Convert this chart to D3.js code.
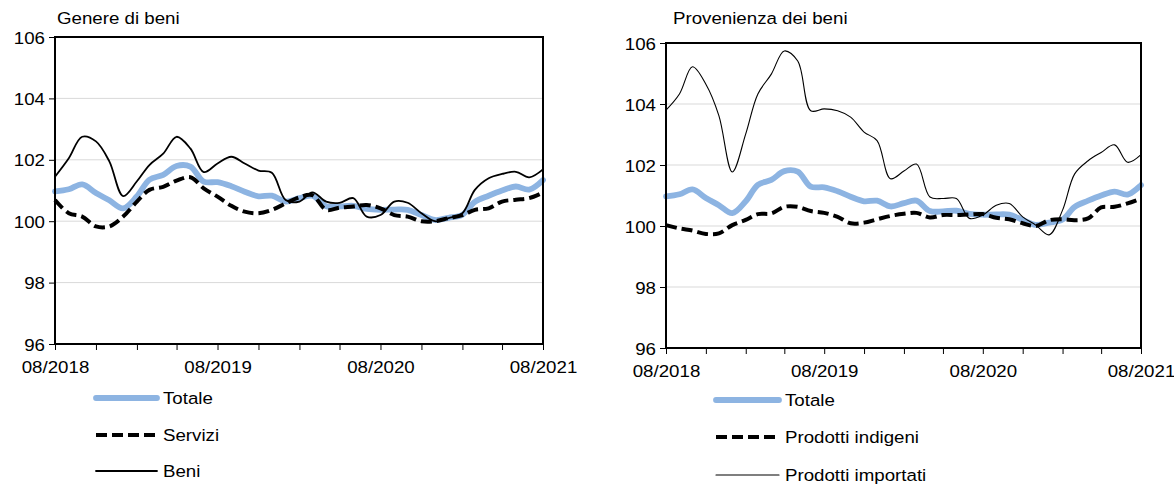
<!DOCTYPE html>
<html>
<head>
  <meta charset="utf-8">
  <title>Prezzi - genere e provenienza dei beni</title>
  <script src="https://d3js.org/d3.v7.min.js"></script>
  <style>
    body { margin: 0; padding: 0; background: #fff; }
    svg text { font-family: "Liberation Sans", Arial, sans-serif; fill: #000; }
  </style>
</head>
<body>
  <svg id="chart" width="1174" height="484"></svg>
  <script>
    // mesi 08/2018 - 08/2021
    var startMonth = new Date(2018, 7, 1);
    var endMonth = new Date(2021, 7, 1);
    var months = d3.timeMonth.range(startMonth, d3.timeMonth.offset(endMonth, 1));

    var yTicks = [96, 98, 100, 102, 104, 106];
    var xTickLabels = ["08/2018", "08/2019", "08/2020", "08/2021"];

    // serie
    var totale = [100.97, 101.04, 101.2, 100.92, 100.68, 100.42, 100.81, 101.35, 101.51, 101.8, 101.78, 101.29, 101.27, 101.14,
      100.96, 100.81, 100.83, 100.64, 100.75, 100.83, 100.49, 100.48, 100.5, 100.4, 100.37, 100.38, 100.37, 100.2, 100.04,
      100.11, 100.21, 100.63, 100.83, 101.0, 101.13, 101.03, 101.34];
    var servizi = [100.69, 100.26, 100.15, 99.83, 99.83, 100.15, 100.64, 101.02, 101.12, 101.32, 101.43, 101.07, 100.8, 100.5,
      100.31, 100.26, 100.37, 100.58, 100.78, 100.85, 100.37, 100.44, 100.48, 100.53, 100.42, 100.2, 100.15, 100.0, 100.0,
      100.1, 100.2, 100.37, 100.42, 100.64, 100.7, 100.75, 100.93];
    var beni = [101.45, 102.05, 102.75, 102.6, 101.95, 100.82, 101.3, 101.83, 102.2, 102.75, 102.37, 101.6, 101.88, 102.1,
      101.88, 101.65, 101.58, 100.69, 100.64, 100.94, 100.64, 100.6, 100.75, 100.15, 100.2, 100.64, 100.6, 100.26, 100.0,
      100.1, 100.26, 101.02, 101.4, 101.54, 101.61, 101.43, 101.69];
    var indigeni = [100.03, 99.92, 99.85, 99.74, 99.76, 100.03, 100.2, 100.39, 100.41, 100.63, 100.63, 100.49, 100.43, 100.3,
      100.09, 100.11, 100.22, 100.33, 100.4, 100.43, 100.28, 100.36, 100.36, 100.38, 100.39, 100.27, 100.22, 100.09, 100.0,
      100.19, 100.22, 100.19, 100.25, 100.61, 100.63, 100.74, 100.9];
    var importati = [103.8, 104.33, 105.22, 104.65, 103.62, 101.77, 103.02, 104.33, 104.98, 105.74, 105.41, 103.78, 103.84, 103.78,
      103.57, 103.08, 102.8, 101.55, 101.8, 102.03, 100.95, 100.9, 100.9, 100.25, 100.36, 100.68, 100.74, 100.3, 100.03,
      99.71, 100.52, 101.71, 102.14, 102.41, 102.66, 102.09, 102.34];

    var svg = d3.select("#chart");
    var fmt = d3.timeFormat("%m/%Y");
    var fontSize = 17;
    var stretch = 1.1; // il testo originale e' un po' allargato

    var styles = {
      totale: { stroke: "#8db4e2", width: 5.8, dash: null },
      dashed: { stroke: "#000", width: 4, dash: "11,5" },
      thick: { stroke: "#000", width: 1.8, dash: null },
      thin: { stroke: "#000", width: 1.1, dash: null }
    };

    // allarga il testo in orizzontale senza spostarne l'ancora
    function widen(sel) {
      sel.each(function () {
        var t = d3.select(this);
        var x = +t.attr("x") || 0;
        t.attr("x", 0)
          .attr("transform", "translate(" + x + ",0) scale(" + stretch + ",1)");
      });
    }

    function drawPanel(cfg) {
      var g = svg.append("g");
      var x = d3.scaleTime().domain([startMonth, endMonth]).range([cfg.left, cfg.right]);
      var y = d3.scaleLinear().domain([96, 106]).range([cfg.bottom, cfg.top]);

      // titolo
      g.append("text")
        .attr("x", cfg.titleX)
        .attr("y", 24)
        .attr("font-size", fontSize)
        .text(cfg.title)
        .call(widen);

      // griglia
      g.selectAll(".grid")
        .data(yTicks.filter(function (d) { return d > 96 && d < 106; }))
        .join("line")
        .attr("class", "grid")
        .attr("x1", cfg.left).attr("x2", cfg.right)
        .attr("y1", function (d) { return y(d); })
        .attr("y2", function (d) { return y(d); })
        .attr("stroke", "#d9d9d9")
        .attr("stroke-width", 1);

      // linee
      var line = d3.line()
        .x(function (d, i) { return x(months[i]); })
        .y(function (d) { return y(d); })
        .curve(d3.curveCatmullRom.alpha(0.5));

      cfg.series.forEach(function (s) {
        g.append("path")
          .datum(s.values)
          .attr("d", line)
          .attr("fill", "none")
          .attr("stroke", s.style.stroke)
          .attr("stroke-width", s.style.width)
          .attr("stroke-dasharray", s.style.dash)
          .attr("stroke-linejoin", "round")
          .attr("stroke-linecap", s.style.dash ? "butt" : "round");
      });

      // cornice
      g.append("rect")
        .attr("x", cfg.left).attr("y", cfg.top)
        .attr("width", cfg.right - cfg.left)
        .attr("height", cfg.bottom - cfg.top)
        .attr("fill", "none")
        .attr("stroke", "#000")
        .attr("stroke-width", 2);

      // asse y
      var yAxis = g.append("g")
        .attr("transform", "translate(" + cfg.left + ",0)")
        .call(d3.axisLeft(y).tickValues(yTicks).tickSize(6).tickPadding(4).tickFormat(d3.format("d")));
      yAxis.select(".domain").remove();
      yAxis.selectAll("text").attr("font-size", fontSize).attr("dy", "0.36em").call(widen);

      // asse x: tacche ogni 3 mesi, etichetta ad agosto
      var xAxis = g.append("g")
        .attr("transform", "translate(0," + cfg.bottom + ")")
        .call(d3.axisBottom(x)
          .tickValues(months.filter(function (d, i) { return i % 3 === 0; }))
          .tickSize(6)
          .tickPadding(11)
          .tickFormat(function (d) {
            var s = fmt(d);
            return xTickLabels.indexOf(s) >= 0 ? s : "";
          }));
      xAxis.select(".domain").remove();
      xAxis.selectAll("text").attr("font-size", fontSize).call(widen);

      // legenda
      var leg = g.selectAll(".legend")
        .data(cfg.series)
        .join("g")
        .attr("class", "legend")
        .attr("transform", function (d, i) { return "translate(0," + cfg.legendY[i] + ")"; });
      leg.append("line")
        .attr("x1", cfg.legendX1).attr("x2", cfg.legendX2)
        .attr("y1", 0).attr("y2", 0)
        .attr("stroke", function (d) { return d.style.stroke; })
        .attr("stroke-width", function (d) { return d.style.width; })
        .attr("stroke-dasharray", function (d) { return d.style.dash; })
        .attr("stroke-linecap", function (d) { return d.style.dash ? "butt" : "round"; });
      leg.append("text")
        .attr("x", cfg.legendX2 + 6)
        .attr("y", 0)
        .attr("dy", "0.36em")
        .attr("font-size", fontSize)
        .text(function (d) { return d.name; })
        .call(widen);
    }

    drawPanel({
      title: "Genere di beni",
      titleX: 57,
      left: 55, right: 543, top: 37, bottom: 344,
      legendX1: 96, legendX2: 157, legendY: [398, 435, 471],
      series: [
        { name: "Totale", values: totale, style: styles.totale },
        { name: "Servizi", values: servizi, style: styles.dashed },
        { name: "Beni", values: beni, style: styles.thick }
      ]
    });

    drawPanel({
      title: "Provenienza dei beni",
      titleX: 673,
      left: 666, right: 1141, top: 43, bottom: 348,
      legendX1: 716, legendX2: 779, legendY: [400, 437, 475],
      series: [
        { name: "Totale", values: totale, style: styles.totale },
        { name: "Prodotti indigeni", values: indigeni, style: styles.dashed },
        { name: "Prodotti importati", values: importati, style: styles.thin }
      ]
    });
  </script>
</body>
</html>
